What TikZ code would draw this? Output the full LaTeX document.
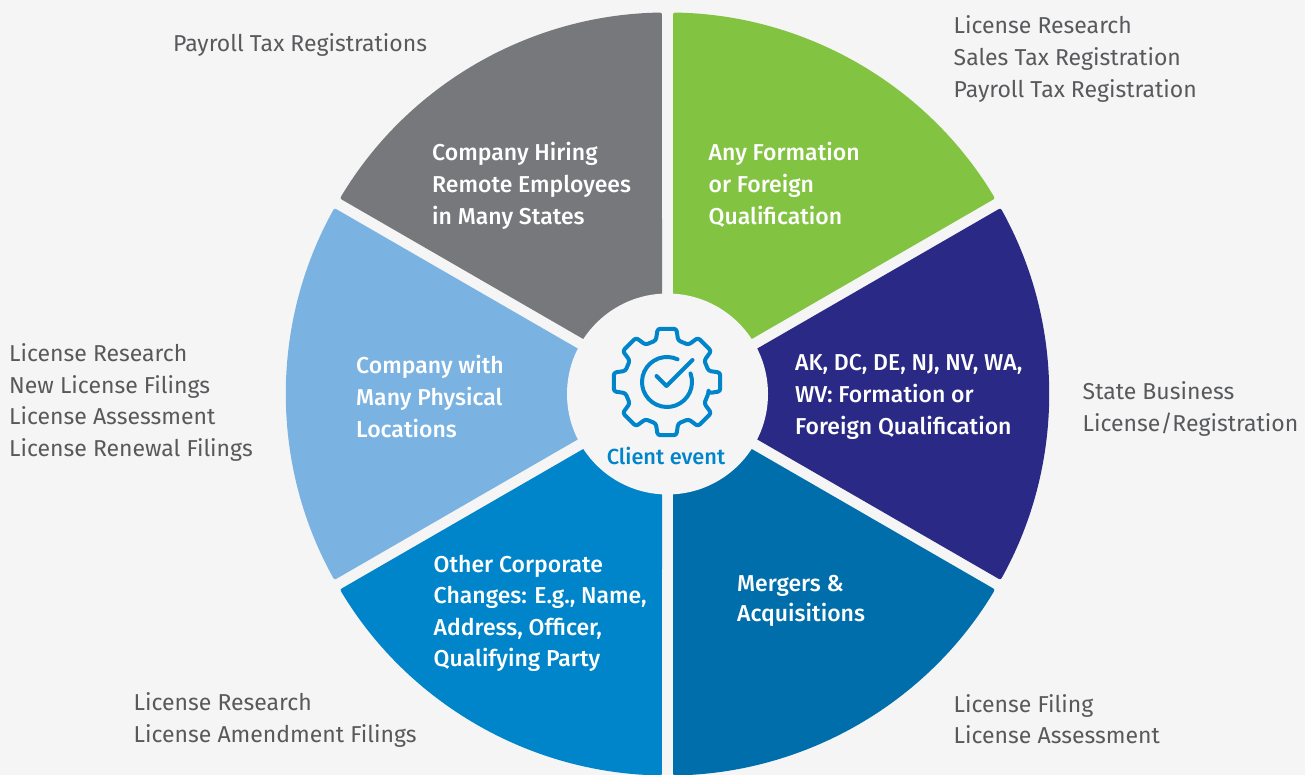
\documentclass[tikz,border=0pt]{standalone}
\usepackage{fontspec}
\setmainfont{Fira Sans}[BoldFont=Fira Sans Medium]
\definecolor{pagebg}{HTML}{F5F5F6}
\definecolor{anygreen}{HTML}{82C341}
\definecolor{navy}{HTML}{2A2A86}
\definecolor{darkblue}{HTML}{006EAB}
\definecolor{midblue}{HTML}{0085CA}
\definecolor{lightblue}{HTML}{7AB2E2}
\definecolor{midgrey}{HTML}{77787B}
\definecolor{listgrey}{HTML}{58595B}
\tikzstyle{seg} = [text = white, align = left, anchor = west, inner sep = 0pt, font = \fontsize{23}{32}\selectfont\bfseries]
\tikzstyle{list} = [text = listgrey, align = left, anchor = west, inner sep = 0pt, font = \fontsize{23}{32}\selectfont]
\tikzstyle{icon} = [draw = midblue, line width = 4pt, line cap = round, line join = round]
\begin{document}
\begin{tikzpicture}[x = 1pt, y = 1pt]
    \useasboundingbox[fill = pagebg] (0, 0) rectangle (1305, 775);
    \coordinate(hub) at (667.5, 381);
    \coordinate(gear) at (667, 393);
    % wedges
    \begin{scope}[shift = {(hub)}]
        \foreach \a/\col in {30/anygreen, 90/midgrey, 150/lightblue, 210/midblue, 270/darkblue, 330/navy}
            \fill[\col, rounded corners = 2pt] (\a + 30:11) -- (\a + 0.83:381.5) arc[start angle = \a + 0.83, end angle = \a + 59.17, radius = 381.5] -- cycle;
        \fill[pagebg] (0, 0) circle (100.5);
    \end{scope}
    % gear icon
    \begin{scope}[shift = {(gear)}]
        \draw[icon, rounded corners = 2.5pt] (-15:43) \foreach \t in {0, 45, ..., 315} { -- (\t - 15:43) -- (\t - 10:54) -- (\t + 10:54) -- (\t + 15:43) } -- cycle;
        \draw[icon] (65:25) arc[start angle = 65, end angle = 380, radius = 25];
        \draw[icon] (-10.5, 6) -- (-0.5, -4) -- (25.5, 22);
    \end{scope}
    \node(client_event)[text = midblue, font = \fontsize{21.8}{24}\selectfont\bfseries] at (666, 319) {Client event};
    % wedge labels
    \node(any_formation)[seg] at (708.5, 590) {Any Formation\\or Foreign\\Qualification};
    \node(ak_dc)[seg] at (795, 378) {AK, DC, DE, NJ, NV, WA,\\WV: Formation or\\Foreign Qualification};
    \node(mergers)[seg] at (737, 174) {Mergers \&\\[-2pt]Acquisitions};
    \node(other_changes)[seg] at (433.5, 161.5) {Other Corporate\\[-0.5pt]Changes: E.g., Name,\\[-0.5pt]Address, Officer,\\[-0.5pt]Qualifying Party};
    \node(physical)[seg] at (356, 378) {Company with\\Many Physical\\Locations};
    \node(remote)[seg] at (432, 589) {Company Hiring\\Remote Employees\\in Many States};
    % outer lists
    \node(any_list)[list] at (953.5, 716) {License Research\\Sales Tax Registration\\Payroll Tax Registration};
    \node(ak_list)[list] at (1082.5, 366) {State Business\\License/Registration};
    \node(mergers_list)[list] at (953.5, 55.5) {License Filing\\[-1pt]License Assessment};
    \node(other_list)[list] at (133.5, 55) {License Research\\License Amendment Filings};
    \node(physical_list)[list] at (9, 372.5) {License Research\\[-0.3pt]New License Filings\\[-0.3pt]License Assessment\\[-0.3pt]License Renewal Filings};
    \node(remote_list)[list] at (173, 730) {Payroll Tax Registrations};
\end{tikzpicture}
\end{document}
